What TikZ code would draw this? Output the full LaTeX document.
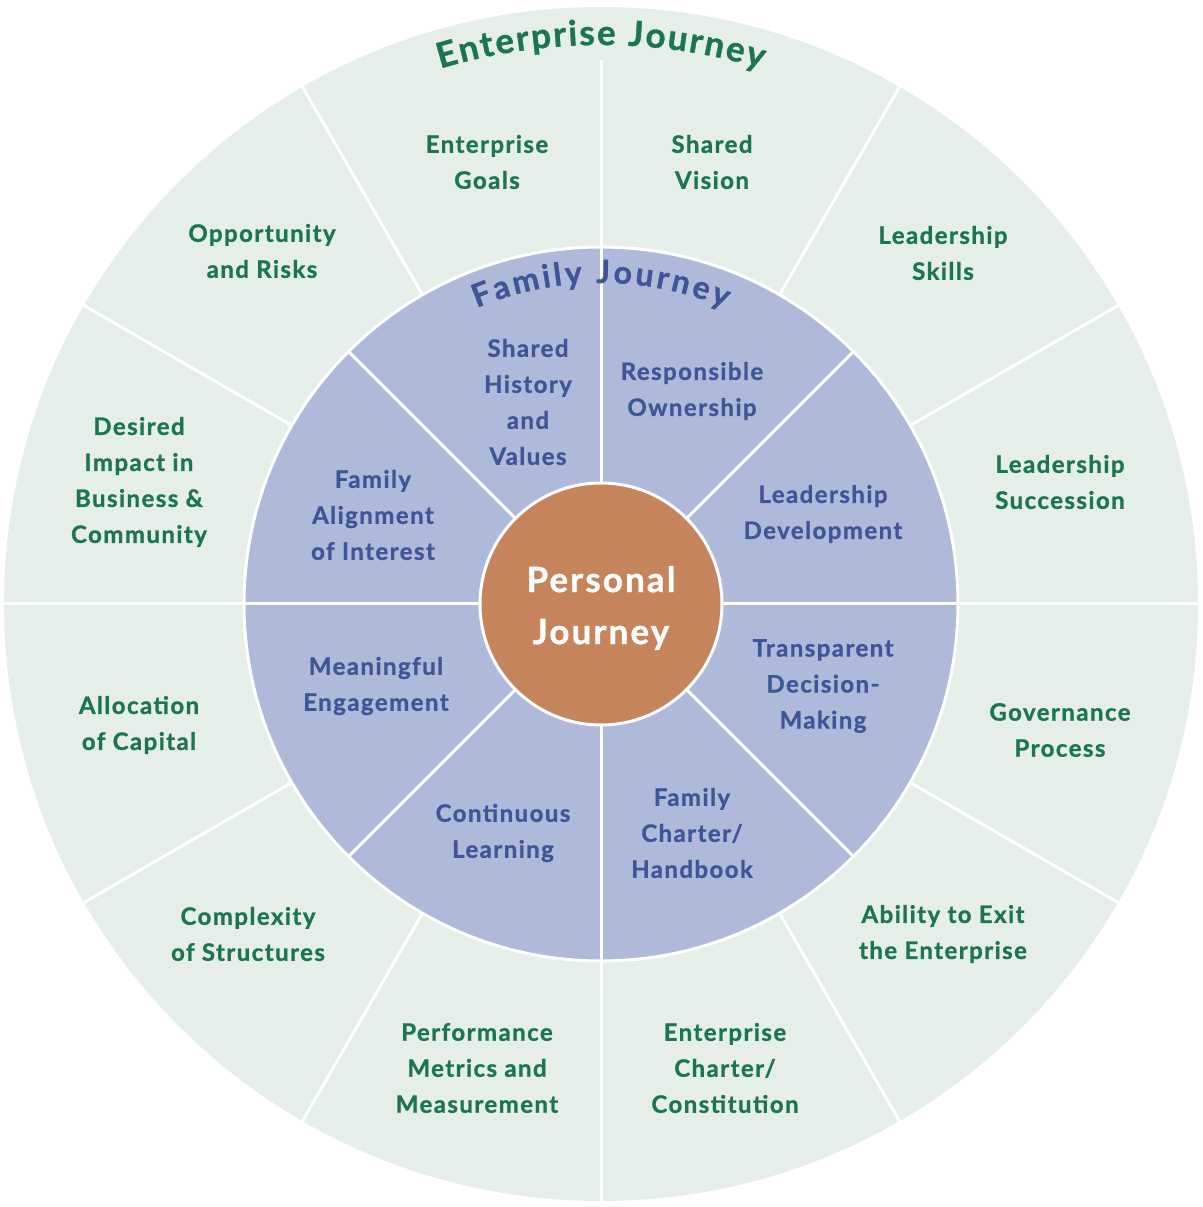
\documentclass[tikz,border=0pt]{standalone}
\usepackage{fontspec}
\setmainfont{Lato}
\definecolor{outerc}{HTML}{E6EEEA}
\definecolor{midc}{HTML}{AFB9D9}
\definecolor{corec}{HTML}{C5845B}
\definecolor{greent}{HTML}{1A7550}
\definecolor{bluet}{HTML}{3E5597}
\newcommand{\heavy}{\bfseries\addfontfeature{FakeBold=1}}
\newcommand{\etitlefont}{\fontsize{35}{35}\selectfont\heavy\color{greent}}
\newcommand{\ftitlefont}{\fontsize{32}{32}\selectfont\heavy\color{bluet}}
\newcommand{\wsp}{\kern0.24em}
\newdimen\arcw \newdimen\arccum \newdimen\arctot \newdimen\arcoff
\newsavebox{\arcbox}
% #1 radius, #2 font, #3 char list, #4 centre angle, #5 extra spacing
\newcommand{\arctext}[5]{%
  \global\arctot=0pt\relax
  \foreach \ch in {#3}{%
    \pgfinterruptpicture\sbox{\arcbox}{#2\ch}\global\advance\arctot by \wd\arcbox\endpgfinterruptpicture
    \global\advance\arctot by #5\relax}%
  \global\advance\arctot by -#5\relax
  \global\arccum=0pt\relax
  \foreach \ch [count=\i] in {#3}{%
    \pgfinterruptpicture\sbox{\arcbox}{#2\ch}\global\arcw=\wd\arcbox\endpgfinterruptpicture
    \arcoff=0.5\arctot
    \advance\arcoff by -\arccum
    \advance\arcoff by -0.5\arcw
    \pgfmathsetmacro{\ang}{#4+\the\arcoff*57.29578/#1}%
    \pgfmathsetmacro{\rot}{\ang-90}%
    \node[anchor=base, rotate=\rot, inner sep=0pt, outer sep=0pt] (arc#1c\i) at (\ang:#1) {#2\ch};%
    \global\advance\arccum by \arcw
    \global\advance\arccum by #5\relax
  }}
\tikzset{
  outerlbl/.style={align=center, text=greent, font=\fontsize{24}{36}\selectfont\heavy\addfontfeature{LetterSpace=6}},
  midlbl/.style={align=center, text=bluet, font=\fontsize{24}{36}\selectfont\heavy\addfontfeature{LetterSpace=6}},
  corelbl/.style={align=center, text=white, font=\fontsize{35}{52}\selectfont\heavy\addfontfeature{LetterSpace=6}},
  sep/.style={white, line width=3pt},
}
\begin{document}
\begin{tikzpicture}[x=1pt,y=1pt]
\useasboundingbox (-601,-603) rectangle (601,604);
% rings
\fill[outerc] (0,0) circle (597);
\fill[midc] (0,0) circle (357);
\draw[sep] (0,0) circle (357);
\foreach \a in {0,30,60,120,150,180,210,240,270,300,330}
  \draw[sep] (\a:357) -- (\a:597);
\draw[sep] (90:357) -- (90:544);
\foreach \a in {0,45,...,315}
  \draw[sep] (\a:121) -- (\a:357);
\node[circle, fill=corec, draw=white, line width=3pt, minimum size=242pt, inner sep=0pt] (core) at (0,0) {};
% curved titles
\arctext{559}{\etitlefont}{E,n,t,e,r,p,r,i,s,e,\wsp,J,o,u,r,n,e,y}{90}{1.9pt}
\arctext{321}{\ftitlefont}{F,a,m,i,l,y,\wsp,J,o,u,r,n,e,y}{90}{3.0pt}
% center
\node[corelbl] (personal) at (0,-4) {Personal\\Journey};
% outer labels
\node[outerlbl] (egoals) at (-114,442) {Enterprise\\Goals};
\node[outerlbl] (svision) at (111,442) {Shared\\Vision};
\node[outerlbl] (lskills) at (342,351) {Leadership\\Skills};
\node[outerlbl] (lsucc) at (459,122) {Leadership\\Succession};
\node[outerlbl] (gov) at (459,-126) {Governance\\Process};
\node[outerlbl] (exit) at (342,-330) {Ability to Exit\\the Enterprise};
\node[outerlbl] (echarter) at (124,-464) {Enterprise\\Charter/\\Constitution};
\node[outerlbl] (perf) at (-124,-464) {Performance\\Metrics and\\Measurement};
\node[outerlbl] (complex) at (-353,-330) {Complexity\\of Structures};
\node[outerlbl] (alloc) at (-462,-121) {Allocation\\of Capital};
\node[outerlbl] (desired) at (-462,122) {Desired\\Impact in\\Business \&\\Community};
\node[outerlbl] (opp) at (-339,353) {Opportunity\\and Risks};
% middle labels
\node[midlbl] (history) at (-73,202) {Shared\\History\\and\\Values};
\node[midlbl] (ownership) at (91,213) {Responsible\\Ownership};
\node[midlbl] (leaddev) at (222,90) {Leadership\\Development};
\node[midlbl] (transp) at (222,-82) {Transparent\\Decision-\\Making};
\node[midlbl] (fcharter) at (91,-229) {Family\\Charter/\\Handbook};
\node[midlbl] (contl) at (-98,-229) {Continuous\\Learning};
\node[midlbl] (meaning) at (-225,-82) {Meaningful\\Engagement};
\node[midlbl] (align) at (-228,89) {Family\\Alignment\\of Interest};
\end{tikzpicture}
\end{document}
